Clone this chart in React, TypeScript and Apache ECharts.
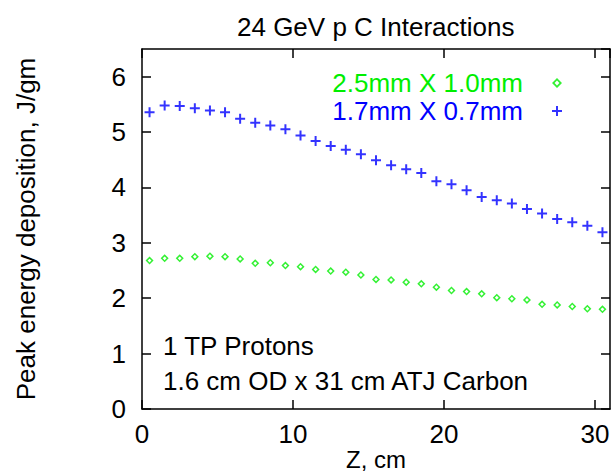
import React, { useEffect, useRef } from "react";
import * as echarts from "echarts";

// Z position along the target (cm)
const zPositions = [
  0.5, 1.5, 2.5, 3.5, 4.5, 5.5, 6.5, 7.5, 8.5, 9.5, 10.5, 11.5, 12.5, 13.5, 14.5, 15.5,
  16.5, 17.5, 18.5, 19.5, 20.5, 21.5, 22.5, 23.5, 24.5, 25.5, 26.5, 27.5, 28.5, 29.5, 30.5,
];

// Peak energy deposition (J/gm), beam spot 2.5mm X 1.0mm
const depositionWide = [
  2.68, 2.72, 2.72, 2.75, 2.76, 2.75, 2.71, 2.63, 2.64, 2.59, 2.57, 2.52, 2.49, 2.47, 2.42, 2.34,
  2.33, 2.29, 2.26, 2.2, 2.14, 2.12, 2.08, 2.01, 1.99, 1.97, 1.89, 1.88, 1.85, 1.81, 1.8,
];

// Peak energy deposition (J/gm), beam spot 1.7mm X 0.7mm
const depositionNarrow = [
  5.36, 5.48, 5.47, 5.43, 5.39, 5.36, 5.24, 5.17, 5.12, 5.05, 4.94, 4.84, 4.75, 4.68, 4.6, 4.49,
  4.4, 4.33, 4.26, 4.11, 4.06, 3.95, 3.83, 3.77, 3.71, 3.61, 3.53, 3.43, 3.37, 3.31, 3.19,
];

const seriesNames = ["2.5mm X 1.0mm", "1.7mm X 0.7mm"];
const titleText = "24 GeV p C Interactions";
const xAxisTitle = "Z, cm";
const yAxisTitle = "Peak energy deposition, J/gm";
const noteLines = ["1 TP Protons", "1.6 cm OD x 31 cm ATJ Carbon"];

const FONT = '"Liberation Sans", Arial, Helvetica, sans-serif';
const GREEN = "#00ee00";
const BLUE = "#0000ff";
const PLUS = "path://M4,0H6V4H10V6H6V10H4V6H0V4H4Z";
const DIAMOND = "path://M5,0L10,5L5,10L0,5Z M5,2.6L2.6,5L5,7.4L7.4,5Z";

const pairs = (ys: number[]) => zPositions.map((z, i) => [z, ys[i]]);

export default function App() {
  const ref = useRef<HTMLDivElement>(null);

  useEffect(() => {
    if (!ref.current) return;
    const chart = echarts.init(ref.current, null, { renderer: "svg" });

    const axisLine = { show: true, onZero: false, lineStyle: { color: "#000", width: 1.5 } };
    const axisTick = { show: true, inside: true, length: 9, lineStyle: { color: "#000", width: 1.5 } };
    const label = { fontFamily: FONT, fontSize: 26, color: "#000" };

    chart.setOption({
      animation: false,
      backgroundColor: "#fff",
      title: {
        text: titleText,
        left: 237,
        top: 14,
        padding: 0,
        textStyle: { fontFamily: FONT, fontSize: 26, fontWeight: "normal", color: "#000" },
      },
      grid: { left: 142, top: 49, right: 1, bottom: 66, containLabel: false, outerBoundsMode: "none" },
      legend: {
        orient: "vertical",
        align: "right",
        right: 49,
        top: 70,
        padding: 0,
        itemGap: 2,
        itemWidth: 10,
        itemHeight: 10,
        textStyle: { fontFamily: FONT, fontSize: 26, padding: [0, 24, 0, 0] },
        data: [
          { name: seriesNames[0], textStyle: { color: GREEN } },
          { name: seriesNames[1], textStyle: { color: BLUE } },
        ],
      },
      xAxis: [
        {
          type: "value",
          position: "bottom",
          min: 0,
          max: 31,
          interval: 10,
          name: xAxisTitle,
          nameLocation: "middle",
          nameGap: 50,
          nameMoveOverlap: false,
          nameTextStyle: { ...label, fontSize: 24, lineHeight: 24, verticalAlign: "middle" },
          axisLine,
          axisTick,
          axisLabel: { ...label, margin: 12 },
          splitLine: { show: false },
        },
        {
          type: "value",
          position: "top",
          min: 0,
          max: 31,
          interval: 10,
          axisLine,
          axisTick,
          axisLabel: { show: false },
          splitLine: { show: false },
        },
      ],
      yAxis: [
        {
          type: "value",
          position: "left",
          min: 0,
          max: 6.5,
          interval: 1,
          name: yAxisTitle,
          nameLocation: "middle",
          nameRotate: 90,
          nameGap: 103,
          nameMoveOverlap: false,
          nameTextStyle: label,
          axisLine,
          axisTick,
          axisLabel: { ...label, margin: 16, showMaxLabel: false },
          splitLine: { show: false },
        },
        {
          type: "value",
          position: "right",
          min: 0,
          max: 6.5,
          interval: 1,
          axisLine,
          axisTick,
          axisLabel: { show: false },
          splitLine: { show: false },
        },
      ],
      graphic: noteLines.map((t, i) => ({
        type: "text",
        left: 163,
        top: 333 + i * 35,
        style: { text: t, fontFamily: FONT, fontSize: 26, fill: "#000" },
      })),
      series: [
        {
          name: seriesNames[0],
          type: "scatter",
          xAxisIndex: 0,
          yAxisIndex: 0,
          symbol: DIAMOND,
          symbolSize: 8,
          itemStyle: { color: GREEN },
          data: pairs(depositionWide),
        },
        {
          name: seriesNames[1],
          type: "scatter",
          xAxisIndex: 0,
          yAxisIndex: 0,
          symbol: PLUS,
          symbolSize: 10,
          itemStyle: { color: BLUE },
          data: pairs(depositionNarrow),
        },
      ],
    });

    return () => chart.dispose();
  }, []);

  return (
    <div
      ref={ref}
      style={{ position: "fixed", left: 0, top: 0, width: 611, height: 475, background: "#fff" }}
    />
  );
}
